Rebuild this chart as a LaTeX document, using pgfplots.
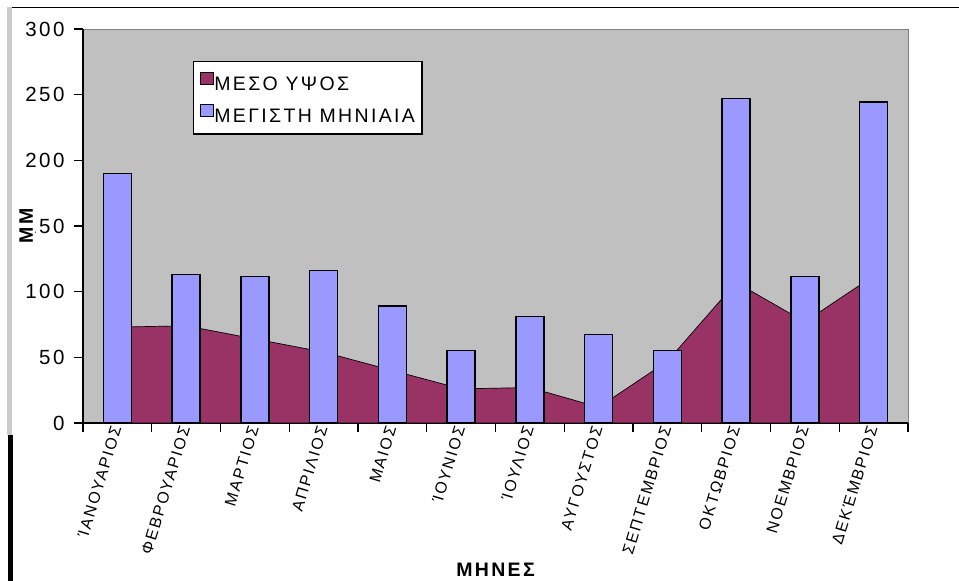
\documentclass[border=0pt]{standalone}
\usepackage{pgfplots}
\pgfplotsset{compat=1.18}
\usepackage{fontspec}
\setmainfont{Liberation Sans}[LetterSpace=12]
\definecolor{plotgray}{HTML}{C0C0C0}
\definecolor{barblue}{HTML}{9999FF}
\definecolor{plum}{HTML}{993366}
\begin{document}
\begin{tikzpicture}
\path[use as bounding box, fill=white] (0,0) rectangle (959pt,581pt);
\draw[black, line width=1.2pt] (7pt,573.5pt) -- (959pt,573.5pt);
\fill[gray!40] (7pt,146pt) rectangle (12pt,574pt);
\fill[black] (8pt,0pt) rectangle (12.5pt,146pt);
\begin{axis}[
  at={(83pt,158pt)}, anchor=south west,
  scale only axis, width=825pt, height=394pt,
  xmin=-0.5, xmax=11.5, ymin=0, ymax=300,
  axis x line*=bottom, axis y line*=left,
  axis line style={-, black, line width=1.3pt},
  axis background/.style={fill=plotgray, draw=gray, line width=0.8pt},
  tick align=outside, major tick length=9pt,
  tick style={black, line width=1.2pt},
  ytick={0,50,...,300},
  /pgf/number format/assume math mode=true,
  yticklabel style={font=\fontsize{20.5}{24}\selectfont, xshift=-6pt},
  xtick={-0.5,0.5,...,11.5}, xticklabels={},
  extra x ticks={0,1,2,3,4,5,6,7,8,9,10,11},
  extra x tick labels={ΊΑΝΟΥΑΡΙΟΣ,ΦΕΒΡΟΥΑΡΙΟΣ,ΜΑΡΤΙΟΣ,ΑΠΡΙΛΙΟΣ,ΜΑΙΟΣ,ΊΟΥΝΙΟΣ,ΊΟΥΛΙΟΣ,ΑΥΓΟΥΣΤΟΣ,ΣΕΠΤΕΜΒΡΙΟΣ,ΟΚΤΩΒΡΙΟΣ,ΝΟΕΜΒΡΙΟΣ,ΔΕΚΈΜΒΡΙΟΣ},
  extra x tick style={major tick length=0pt, tick style={draw=none},
    xticklabel style={rotate=73, anchor=east, font=\fontsize{16}{19}\selectfont}},
  ylabel={ΜΜ},
  ylabel style={at={(axis description cs:-0.069,0.5)}, anchor=center,
    font=\bfseries\fontsize{19.5}{22}\selectfont, fill=white, inner sep=2.5pt},
  xlabel={ΜΗΝΕΣ},
  xlabel style={at={(axis description cs:0.5,-0.373)}, anchor=center,
    font=\bfseries\fontsize{19.5}{22}\selectfont},
  legend style={at={(0.1333,0.9188)}, anchor=north west, draw=black,
    line width=1.2pt, fill=white, font=\fontsize{19.5}{22}\selectfont,
    inner xsep=6pt, inner ysep=10pt, row sep=12pt,
    nodes={inner sep=1pt, text depth=0pt}},
  legend cell align=left,
]
\addplot[fill=plum, draw=black, line width=0.7pt,
  legend image code/.code={\draw[fill=plum, draw=black, line width=0.8pt] (0pt,0pt) rectangle (13pt,12pt);}]
  coordinates {(0,73) (1,74) (2,64) (3,54) (4,40) (5,26) (6,27) (7,12) (8,47) (9,107) (10,77) (11,112)} \closedcycle;
\addplot[ybar, bar width=28pt, fill=barblue, draw=black, line width=1.3pt,
  legend image code/.code={\draw[fill=barblue, draw=black, line width=0.8pt] (0pt,0pt) rectangle (13pt,12pt);}]
  coordinates {(0,190) (1,113) (2,111.5) (3,116) (4,89) (5,55) (6,81) (7,67.5) (8,55) (9,247) (10,111.5) (11,244.5)};
\legend{ΜΕΣΟ ΥΨΟΣ, ΜΕΓΙΣΤΗ ΜΗΝΙΑΙΑ}
\end{axis}
\end{tikzpicture}
\end{document}
